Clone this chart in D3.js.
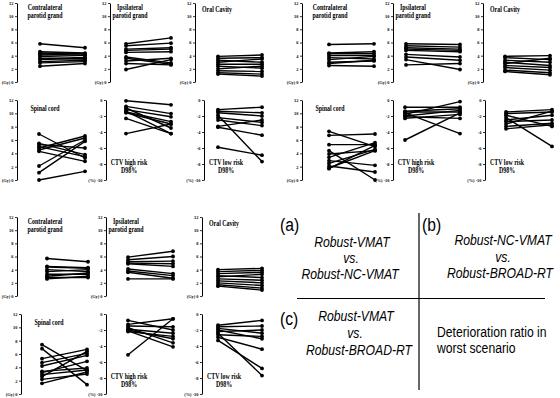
<!DOCTYPE html>
<html lang="en">
<head>
<meta charset="UTF-8">
<title>Paired plan comparison</title>
<script src="https://d3js.org/d3.v7.min.js"></script>
<style>
  body { margin: 0; background: #fff; }
  svg { display: block; }
  .tick text { font-family: "Liberation Serif", serif; font-weight: bold; font-size: 4.4px; }
  .ttl { font-family: "Liberation Serif", serif; font-weight: bold; font-size: 7.4px; }
  .note { font-family: "Liberation Sans", Arial, sans-serif; }
</style>
</head>
<body>
<svg id="chart" width="560" height="398"></svg>
<script>
// paired values per patient: [first plan, second plan]
// (a) Robust-VMAT vs Robust-NC-VMAT
const contraA = [[5.8,5.2],[4.6,4.4],[4.4,4.3],[4.3,4.0],[4.1,4.1],[3.9,3.7],[3.6,3.5],[3.4,3.6],[3.1,3.3],[2.9,3.1],[2.4,2.8]];
const ipsiA = [[5.8,6.7],[5.5,5.9],[5.0,5.2],[4.8,5.0],[4.5,4.6],[3.8,2.9],[3.6,2.7],[3.2,3.6],[2.8,2.6],[1.9,3.4]];
const oralA = [[3.9,4.1],[3.6,3.7],[3.3,3.0],[3.0,3.5],[2.7,2.7],[2.4,2.1],[2.0,2.4],[1.7,1.6],[1.4,1.2],[1.2,0.9]];
const spinalA = [[6.9,3.3],[5.5,3.8],[5.3,4.8],[5.0,3.5],[4.8,6.6],[4.5,6.3],[4.3,2.8],[2.1,6.0],[1.1,5.8],[0.0,1.3]];
const ctvHighA = [[-0.1,-0.6],[-0.8,-1.7],[-1.0,-3.5],[-1.2,-2.1],[-1.4,-4.2],[-1.5,-2.7],[-1.6,-3.0],[-2.3,-4.2],[-4.2,-3.0]];
const ctvLowA = [[-1.2,-0.9],[-1.4,-1.6],[-1.6,-2.0],[-1.9,-7.7],[-2.2,-2.8],[-2.5,-3.2],[-3.3,-2.5],[-3.4,-4.4],[-5.9,-6.9]];
// (b) Robust-NC-VMAT vs Robust-BROAD-RT
const contraB = [[5.7,5.8],[4.4,4.6],[4.3,4.3],[4.0,4.0],[3.7,3.5],[3.4,3.9],[3.0,3.2],[2.8,3.3],[2.5,2.4]];
const ipsiB = [[5.8,5.7],[5.5,5.3],[5.2,5.0],[5.0,4.8],[4.8,4.6],[4.2,3.8],[3.8,3.3],[3.4,1.9],[2.6,2.8]];
const oralB = [[3.9,4.0],[3.7,3.4],[3.3,3.0],[3.0,2.5],[2.8,3.6],[2.5,2.2],[2.2,1.8],[1.8,1.4],[1.6,1.1]];
const spinalB = [[7.3,5.0],[6.7,6.9],[5.3,5.3],[4.4,0.0],[3.9,4.4],[3.4,5.6],[2.9,2.2],[2.5,4.6],[2.1,1.2],[1.7,5.2],[1.8,4.4]];
const ctvHighB = [[-0.9,-0.9],[-1.4,-1.1],[-1.5,-1.5],[-1.6,-4.2],[-1.8,-0.2],[-2.0,-1.3],[-2.1,-2.3],[-2.3,-1.8],[-5.0,-1.6]];
const ctvLowB = [[-1.5,-1.2],[-1.7,-1.5],[-1.9,-3.3],[-2.2,-5.8],[-2.5,-1.9],[-2.7,-2.5],[-3.0,-1.4],[-3.3,-2.9],[-3.6,-3.1]];
// (c) Robust-VMAT vs Robust-BROAD-RT
const contraC = [[5.7,5.2],[4.5,4.3],[4.4,4.2],[4.0,3.7],[3.7,4.0],[3.3,3.3],[3.0,3.5],[2.8,2.8],[2.6,3.0]];
const ipsiC = [[5.9,6.8],[5.5,6.0],[5.2,5.3],[5.0,4.9],[4.9,4.5],[4.1,3.4],[3.8,3.1],[3.6,2.7],[2.6,2.6]];
const oralC = [[4.0,4.2],[3.7,3.9],[3.4,3.6],[3.1,2.8],[2.9,3.3],[2.6,2.4],[2.3,2.0],[2.0,1.6],[1.7,1.2],[1.5,0.9]];
const spinalC = [[7.4,3.5],[6.8,1.4],[5.3,6.7],[4.7,6.1],[4.2,5.8],[3.4,3.9],[3.2,4.9],[2.9,3.6],[2.6,6.4],[2.2,3.0],[1.6,3.3]];
const ctvHighC = [[-0.8,-2.0],[-1.3,-0.6],[-1.5,-1.6],[-1.7,-3.6],[-1.9,-2.4],[-2.0,-3.1],[-2.1,-4.1],[-2.2,-2.8],[-5.1,-0.6]];
const ctvLowC = [[-1.4,-0.8],[-1.6,-1.5],[-1.8,-2.4],[-2.0,-3.1],[-2.2,-2.0],[-2.4,-7.7],[-2.6,-2.8],[-2.9,-4.4],[-3.3,-6.8]];

const doseTicks = [0, 2, 4, 6, 8, 10, 12];
const pctTicks = [0, -2, -4, -6, -8, -10];

// organ panels: row, column, title lines, unit
const organs = [
  { key: "contra", row: 0, col: 0, title: ["Contralateral", "parotid grand"], unit: "Gy", tdx: 28, tdy: [7, 15] },
  { key: "ipsi", row: 0, col: 1, title: ["Ipsilateral", "parotid grand"], unit: "Gy", tdx: 20, tdy: [7, 15] },
  { key: "oral", row: 0, col: 2, title: ["Oral Cavity"], unit: "Gy", tdx: 22, tdy: [8.5] },
  { key: "spinal", row: 1, col: 0, title: ["Spinal cord"], unit: "Gy", tdx: 28, tdy: [10.5] },
  { key: "ctvHigh", row: 1, col: 1, title: ["CTV high risk", "D98%"], unit: "%", tdx: 23, tdy: [65, 72.5] },
  { key: "ctvLow", row: 1, col: 2, title: ["CTV low risk", "D98%"], unit: "%", tdx: 22, tdy: [65, 72.5] }
];

const groups = [
  { id: "a", dy: 0, data: { contra: contraA, ipsi: ipsiA, oral: oralA, spinal: spinalA, ctvHigh: ctvHighA, ctvLow: ctvLowA },
    axisX: [[17, 110, 195], [17, 106, 204]],
    pts: [[[40, 85], [126, 171], [218, 262]], [[39, 85], [126, 171], [218, 262]]] },
  { id: "b", dy: 0, data: { contra: contraB, ipsi: ipsiB, oral: oralB, spinal: spinalB, ctvHigh: ctvHighB, ctvLow: ctvLowB },
    axisX: [[302, 393, 483], [302, 393, 485]],
    pts: [[[329, 374], [406, 460], [505, 550]], [[329, 375], [405, 460], [506, 552]]] },
  { id: "c", dy: 214, data: { contra: contraC, ipsi: ipsiC, oral: oralC, spinal: spinalC, ctvHigh: ctvHighC, ctvLow: ctvLowC },
    axisX: [[17, 106, 202], [21, 106, 202]],
    pts: [[[47, 88], [128, 173], [218, 262]], [[42, 87], [128, 173], [218, 262]]] }
];

const rowRange = [[82, 3], [180, 100]];

const svg = d3.select("#chart");

groups.forEach(g => {
  organs.forEach(o => {
    const ax = g.axisX[o.row][o.col];
    const [x0, x1] = g.pts[o.row][o.col];
    const r = rowRange[o.row];
    const isPct = o.unit === "%";
    const y = d3.scaleLinear()
      .domain(isPct ? [-10, 0] : [0, 12])
      .range([r[0] + g.dy, r[1] + g.dy]);
    const x = d3.scalePoint().domain(["pre", "post"]).range([x0, x1]);
    const lo = isPct ? -10 : 0;

    const axis = d3.axisLeft(y)
      .tickValues(isPct ? pctTicks : doseTicks)
      .tickSize(2)
      .tickSizeOuter(0)
      .tickPadding(1.5)
      .tickFormat(d => d === lo ? `(${o.unit}) ${d}` : d);

    const ag = svg.append("g")
      .attr("transform", `translate(${ax},0)`)
      .call(axis);
    ag.select(".domain").attr("stroke-width", 1);
    ag.selectAll(".tick line").attr("stroke-width", 0.8);

    const p = svg.append("g");
    const pairs = g.data[o.key];
    p.selectAll("line.pair")
      .data(pairs)
      .join("line")
      .attr("class", "pair")
      .attr("x1", x("pre")).attr("x2", x("post"))
      .attr("y1", d => y(d[0])).attr("y2", d => y(d[1]))
      .attr("stroke", "#000").attr("stroke-width", 1.4);
    p.selectAll("circle")
      .data(pairs.flatMap(d => [["pre", d[0]], ["post", d[1]]]))
      .join("circle")
      .attr("cx", d => x(d[0])).attr("cy", d => y(d[1]))
      .attr("r", 1.9).attr("fill", "#000");

    const top = r[1] + g.dy;
    o.title.forEach((t, i) => {
      svg.append("text")
        .attr("class", "ttl")
        .attr("text-anchor", "middle")
        .attr("transform", `translate(${ax + o.tdx},${top + o.tdy[i]}) scale(0.8,1)`)
        .text(t);
    });
  });
});

// legend panel at lower right
const noteLines = [
  { x: 280, y: 231, size: 18, italic: false, anchor: "start", text: "(a)" },
  { x: 352, y: 247, size: 14, italic: true, anchor: "middle", text: "Robust-VMAT" },
  { x: 351, y: 263, size: 14, italic: true, anchor: "middle", text: "vs." },
  { x: 350, y: 279, size: 14, italic: true, anchor: "middle", text: "Robust-NC-VMAT" },
  { x: 422, y: 231, size: 18, italic: false, anchor: "start", text: "(b)" },
  { x: 503, y: 245, size: 14, italic: true, anchor: "middle", text: "Robust-NC-VMAT" },
  { x: 503, y: 262, size: 14, italic: true, anchor: "middle", text: "vs." },
  { x: 500, y: 278, size: 14, italic: true, anchor: "middle", text: "Robust-BROAD-RT" },
  { x: 280, y: 325, size: 18, italic: false, anchor: "start", text: "(c)" },
  { x: 356, y: 321, size: 14, italic: true, anchor: "middle", text: "Robust-VMAT" },
  { x: 355, y: 338, size: 14, italic: true, anchor: "middle", text: "vs." },
  { x: 359, y: 355, size: 14, italic: true, anchor: "middle", text: "Robust-BROAD-RT" },
  { x: 437, y: 337, size: 14, italic: false, anchor: "start", text: "Deterioration ratio in" },
  { x: 437, y: 353, size: 14, italic: false, anchor: "start", text: "worst scenario" }
];

svg.append("line").attr("x1", 419).attr("x2", 419).attr("y1", 213).attr("y2", 390)
  .attr("stroke", "#000").attr("stroke-width", 1.2);
svg.append("line").attr("x1", 297).attr("x2", 545).attr("y1", 298.5).attr("y2", 298.5)
  .attr("stroke", "#000").attr("stroke-width", 1.2);

svg.selectAll("text.note")
  .data(noteLines)
  .join("text")
  .attr("class", "note")
  .attr("text-anchor", d => d.anchor)
  .attr("font-size", d => d.size)
  .attr("font-style", d => d.italic ? "italic" : "normal")
  .attr("transform", d => `translate(${d.x},${d.y}) scale(0.87,1)`)
  .text(d => d.text);
</script>
</body>
</html>
